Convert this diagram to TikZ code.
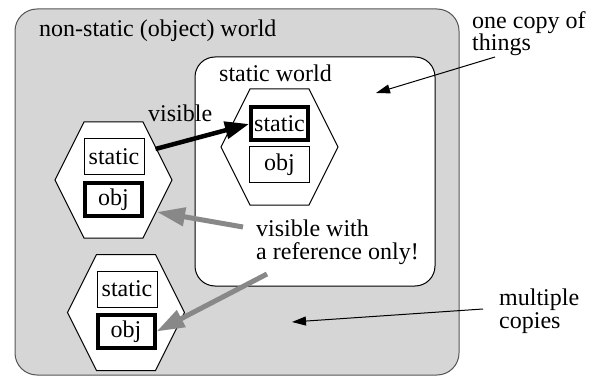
\documentclass[tikz,border=0pt]{standalone}
\usepackage{fontspec}
\setmainfont{Liberation Serif}
\usetikzlibrary{arrows.meta}
\definecolor{worldgray}{RGB}{214,214,214}
\definecolor{framegray}{RGB}{85,85,85}
\definecolor{refgray}{RGB}{136,136,136}
\tikzset{
  label text/.style={anchor=base west, inner sep=0pt, align=left,
    font=\fontsize{24}{22.5}\selectfont},
  hexline/.style={draw=black, line width=1pt, fill=white},
  thinbox/.style={draw=black, line width=1pt, fill=white, minimum width=60pt,
    minimum height=36pt, inner sep=0pt, font=\fontsize{24}{25}\selectfont},
  thickbox/.style={thinbox, line width=4pt, minimum width=57pt, minimum height=33pt},
  hexcell/.pic={
    \draw[hexline] (-58.5,0) -- (-29.5,-58) -- (29.5,-58) -- (58.5,0)
      -- (29.5,58) -- (-29.5,58) -- cycle;
  },
  seearrow/.style={line width=4.5pt, -{Triangle[length=24pt, width=17pt]}},
  refarrow/.style={draw=refgray, line width=5pt,
    -{Triangle[length=28pt, width=18pt]}},
  notearrow/.style={line width=1pt, -{Triangle[length=14pt, width=9pt]}},
}
\begin{document}
\begin{tikzpicture}[x=1pt, y=-1pt]
  \useasboundingbox (0,0) rectangle (600,377);

  % the two worlds
  \draw[draw=framegray, line width=1pt, fill=worldgray, rounded corners=22pt]
    (15,9) rectangle (459,375);
  \draw[draw=black, line width=1pt, fill=white, rounded corners=20pt]
    (195,57) rectangle (435,286);
  \node[label text] (objworld) at (39,37) {non-static (object) world};
  \node[label text] (statworld) at (219,82) {static world};

  % object instances and the static part
  \pic at (113.5,180) {hexcell};
  \pic at (126,312.5) {hexcell};
  \pic at (279.5,147) {hexcell};

  \node[thinbox]  (s1) at (114,157) {static};
  \node[thickbox] (o1) at (113.5,199.5) {obj};
  \node[thinbox]  (s2) at (127,289) {static};
  \node[thickbox] (o2) at (126,331.5) {obj};
  \node[thickbox] (s3) at (279.5,124) {static};
  \node[thinbox]  (o3) at (279.5,165) {obj};

  % annotations (multi-line ones sit on the baseline of their last line)
  \node[label text] (vis) at (148,122) {visible};
  \node[label text] (refnote) at (256,259) {visible with\\a reference only!};
  \node[label text] (onecopy) at (472,51) {one copy of\\things};
  \node[label text] (multi) at (499,328) {multiple\\copies};

  % connector ends that lie on hexagon edges or free space
  \coordinate (h1out) at (155.5,149);
  \coordinate (h1in) at (157,212);
  \coordinate (refa) at (243,227);
  \coordinate (refb) at (267,274);
  \coordinate (onefrom) at (495,57);
  \coordinate (oneto) at (376,93);
  \coordinate (multifrom) at (483,309);
  \coordinate (multito) at (292,322);

  \draw[seearrow] (h1out) -- (s3.west);
  \draw[refarrow] (refa) -- (h1in);
  \draw[refarrow] (refb) -- (o2.east);
  \draw[notearrow] (onefrom) -- (oneto);
  \draw[notearrow] (multifrom) -- (multito);
\end{tikzpicture}
\end{document}
